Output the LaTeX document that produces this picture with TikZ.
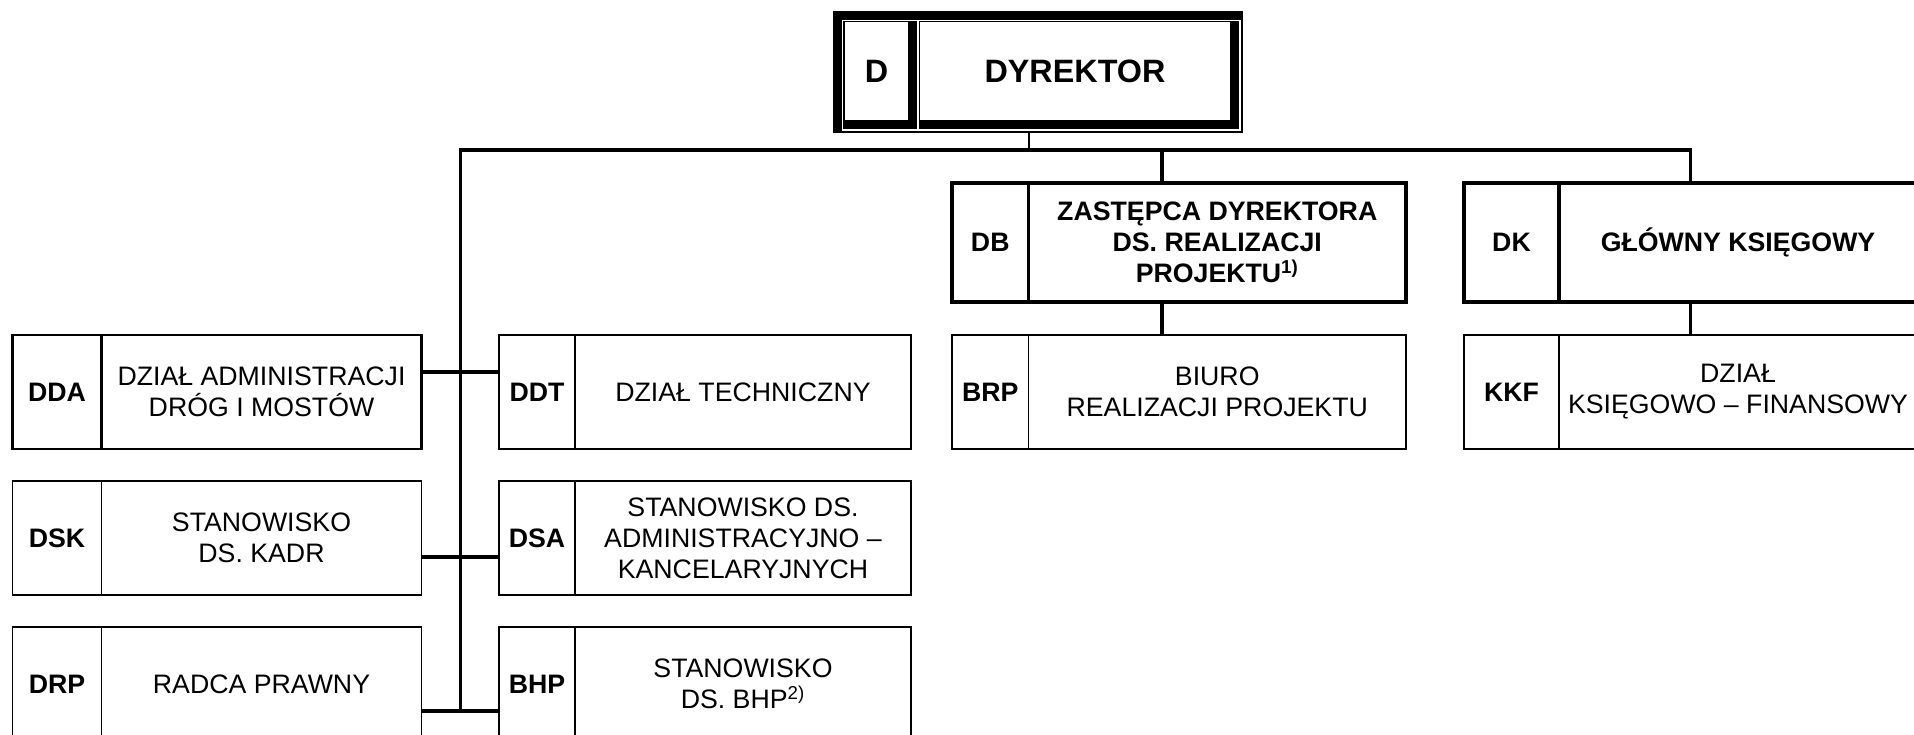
\documentclass[tikz,border=0pt]{standalone}
\usepackage{fontspec}
\setmainfont{Liberation Sans}
\usetikzlibrary{positioning, calc}

\newcommand{\boxfont}{\fontsize{15.2}{17.7}\selectfont}
\newcommand{\headfont}{\fontsize{18.4}{21}\selectfont}

\begin{document}
\begin{tikzpicture}[
    code/.style={draw, outer sep=0pt, inner sep=0pt, align=center, font=\boxfont\bfseries, minimum height=2.28cm, line width=0.75pt},
    unit/.style={draw, outer sep=0pt, inner sep=0pt, align=center, font=\boxfont, minimum height=2.28cm, line width=0.75pt},
    dept/.style={line width=1.15pt},
    chief/.style={line width=1.9pt, minimum height=2.38cm},
    headcell/.style={fill=white, outer sep=0pt, inner sep=0pt, minimum height=1.96cm, font=\headfont\bfseries},
    wire/.style={line width=1.8pt},
  ]
      \useasboundingbox (0,0) rectangle (38.28,-14.7);

      % Director
      \node[fill=black, minimum width=8.2cm, minimum height=2.44cm, outer sep=0pt] (dframe) at (20.76,-1.44) {};
      \node[headcell, minimum width=1.26cm, anchor=north west] (d) at ([shift={(0.24,-0.22)}]dframe.north west) {D};
      \node[headcell, minimum width=6.2cm, right=0.24cm of d] (dyr) {DYREKTOR};
      \draw[white, line width=0.6pt] ([shift={(-0.05,0.03)}]d.north west) rectangle ([shift={(0.2,-0.2)}]dyr.south east);
      \draw[white, line width=0.6pt] ([shift={(-0.04,0.03)}]dyr.north west) -- ([shift={(-0.04,-0.2)}]dyr.south west);

      % Left column
      \node[code, dept, minimum width=1.78cm, anchor=north west] (ddac) at (0.25,-6.7) {DDA};
      \node[unit, dept, minimum width=6.4cm, right=0pt of ddac] (ddat) {DZIAŁ ADMINISTRACJI\\DRÓG I MOSTÓW};
      \node[code, minimum width=1.78cm, below=0.64cm of ddac] (dskc) {DSK};
      \node[unit, minimum width=6.4cm, right=0pt of dskc] (dskt) {STANOWISKO\\DS. KADR};
      \node[code, minimum width=1.78cm, below=0.64cm of dskc] (drpc) {DRP};
      \node[unit, minimum width=6.4cm, right=0pt of drpc] (drpt) {RADCA PRAWNY};

      % Right column
      \node[code, dept, minimum width=1.52cm, right=1.55cm of ddat] (ddtc) {DDT};
      \node[unit, dept, minimum width=6.72cm, right=0pt of ddtc] (ddtt) {DZIAŁ TECHNICZNY};
      \node[code, minimum width=1.52cm, below=0.64cm of ddtc] (dsac) {DSA};
      \node[unit, minimum width=6.72cm, right=0pt of dsac] (dsat) {STANOWISKO DS.\\ADMINISTRACYJNO –\\KANCELARYJNYCH};
      \node[code, minimum width=1.52cm, below=0.64cm of dsac] (bhpc) {BHP};
      \node[unit, minimum width=6.72cm, right=0pt of bhpc] (bhpt) {STANOWISKO\\DS. BHP\textsuperscript{2)}};

      % Project office and accounting
      \node[code, minimum width=1.53cm, right=0.82cm of ddtt] (brpc) {BRP};
      \node[unit, minimum width=7.55cm, right=0pt of brpc] (brpt) {BIURO\\REALIZACJI PROJEKTU};
      \node[code, minimum width=1.9cm, right=1.16cm of brpt] (kkfc) {KKF};
      \node[unit, dept, minimum width=7.16cm, right=0pt of kkfc] (kkft) {DZIAŁ\\KSIĘGOWO – FINANSOWY};

      \node[code, chief, minimum width=1.53cm, above=0.66cm of brpc] (dbc) {DB};
      \node[unit, chief, font=\boxfont\bfseries, minimum width=7.55cm, right=0pt of dbc] (dbt) {ZASTĘPCA DYREKTORA\\DS. REALIZACJI\\PROJEKTU\textsuperscript{1)}};
      \node[code, chief, minimum width=1.9cm, above=0.66cm of kkfc] (dkc) {DK};
      \node[unit, chief, font=\boxfont\bfseries, minimum width=7.16cm, right=0pt of dkc] (dkt) {GŁÓWNY KSIĘGOWY};

      % Connectors
      \coordinate (bus) at (20.58,-3.0);
      \coordinate (trunk) at ($(ddat.east)!0.5!(ddtc.west)$);
      \coordinate (tb) at ([yshift=-0.54cm]drpt.east);
      \coordinate (dkj) at ($(dkc.north west)!0.5!(dkt.north east)$);
      \coordinate (dbj) at ($(dbc.north west)!0.5!(dbt.north east) + (-0.34,0)$);

      \draw[line width=0.6pt] (dframe.south -| bus) -- (bus);
      \draw[wire] (trunk |- tb) -- (trunk |- bus) -- (dkj |- bus) -- (dkj);
      \draw[wire] (dbj |- bus) -- (dbj);
      \draw[wire] (dbj |- dbt.south) -- (dbj |- brpt.north);
      \draw[wire] (dkj |- dkt.south) -- (dkj |- kkft.north);
      \draw[wire] ([yshift=0.4cm]ddat.east) -- ([yshift=0.4cm]ddtc.west);
      \draw[wire] ([yshift=-0.38cm]dskt.east) -- ([yshift=-0.38cm]dsac.west);
      \draw[wire] (tb) -- ([yshift=-0.54cm]bhpc.west);
\end{tikzpicture}
\end{document}
